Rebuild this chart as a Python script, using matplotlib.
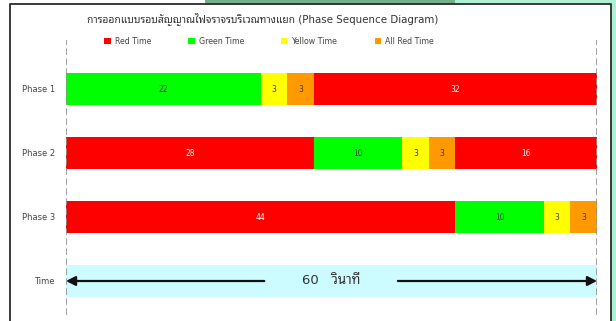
import matplotlib
matplotlib.use("Agg")
import matplotlib.pyplot as plt
from matplotlib.patches import Patch, Rectangle

plt.rcParams["font.family"] = ["DejaVu Sans", "Noto Sans Thai Looped"]

# signal timing, seconds per interval, left to right
phases = ["Phase 1", "Phase 2", "Phase 3"]
phase1_states = ["green", "yellow", "allred", "red"]
phase1_secs = [22, 3, 3, 32]
phase2_states = ["red", "green", "yellow", "allred", "red"]
phase2_secs = [28, 10, 3, 3, 16]
phase3_states = ["red", "green", "yellow", "allred"]
phase3_secs = [44, 10, 3, 3]
cycle_len = 60

legend_labels = ["Red Time", "Green Time", "Yellow Time", "All Red Time"]
legend_states = ["red", "green", "yellow", "allred"]

COLORS = {"red": "#FF0000", "green": "#00FF00", "yellow": "#FFFF00", "allred": "#FF9900"}
TEXT_ON = {"red": "white", "green": "#3a3a3a", "yellow": "#3a3a3a", "allred": "#3a3a3a"}
TIME_BG = "#CCFCFF"

W, H = 616, 321
fig = plt.figure(figsize=(W / 100, H / 100), dpi=100)

# slide backdrop around the chart frame
bg = fig.add_axes([0, 0, 1, 1], zorder=-5)
bg.set_xlim(0, W)
bg.set_ylim(H, 0)
bg.axis("off")
bg.add_patch(Rectangle((611, 0), W - 611, H, color="#AEF0D4", lw=0))
bg.add_patch(Rectangle((455, 0), W - 455, 4, color="#AEF0D4", lw=0))
bg.add_patch(Rectangle((205, 0), 250, 4, color="#74B08A", lw=0))
bg.plot([10, 10, 611, 611], [H + 2, 4, 4, H + 2], color="#2b2b2b", lw=1.3)

# main axes: x 0..60 s spans px 66..597, rows 64 px apart
ax = fig.add_axes([66 / W, 1 - 315 / H, 531 / W, 275 / H])
ax.set_xlim(0, cycle_len)
ax.set_ylim(3 + (315 - 281) / 64, -(89 - 40) / 64)

rows = [(phase1_states, phase1_secs), (phase2_states, phase2_secs), (phase3_states, phase3_secs)]
for y, (states, secs) in enumerate(rows):
    left = 0
    for st, d in zip(states, secs):
        ax.barh(y, d, left=left, height=0.5, color=COLORS[st], edgecolor="none")
        ax.text(left + d / 2, y, str(d), ha="center", va="center", fontsize=5.5, color=TEXT_ON[st])
        left += d

# time row
ty = len(phases)
ax.barh(ty, cycle_len, height=0.5, color=TIME_BG, edgecolor="none")
arrow = dict(arrowstyle="-|>,head_length=0.55,head_width=0.28", color="#111111", lw=1.6,
             shrinkA=0, shrinkB=0)
ax.annotate("", xy=(0, ty), xytext=(22.4, ty), arrowprops=arrow)
ax.annotate("", xy=(cycle_len, ty), xytext=(37.5, ty), arrowprops=arrow)
ax.text(30.0, ty, f"{cycle_len}   วินาที", ha="center", va="center", fontsize=9.5, color="#333333")

for x in (0, cycle_len):
    ax.axvline(x, color="#8f8f8f", lw=1.2, ls=(0, (4, 2)), zorder=5)

ax.set_yticks(range(len(phases) + 1))
ax.set_yticklabels(phases + ["Time"], fontsize=6, color="#444444")
ax.tick_params(axis="y", length=0, pad=8)
ax.set_xticks([])
for s in ax.spines.values():
    s.set_visible(False)

fig.text(263 / W, 1 - 19 / H, "การออกแบบรอบสัญญาณไฟจราจรบริเวณทางแยก (Phase Sequence Diagram)",
         ha="center", va="center", fontsize=7.4, color="#333333")

handles = [Patch(facecolor=COLORS[s], edgecolor="none") for s in legend_states]
fig.legend(handles, legend_labels, loc="center", bbox_to_anchor=(269 / W, 1 - 41 / H), ncol=4,
           frameon=False, fontsize=5.7, handlelength=0.8, handleheight=0.8, handletextpad=0.5,
           columnspacing=4.7, labelcolor="#444444")

fig.savefig("out.png", dpi=100)
